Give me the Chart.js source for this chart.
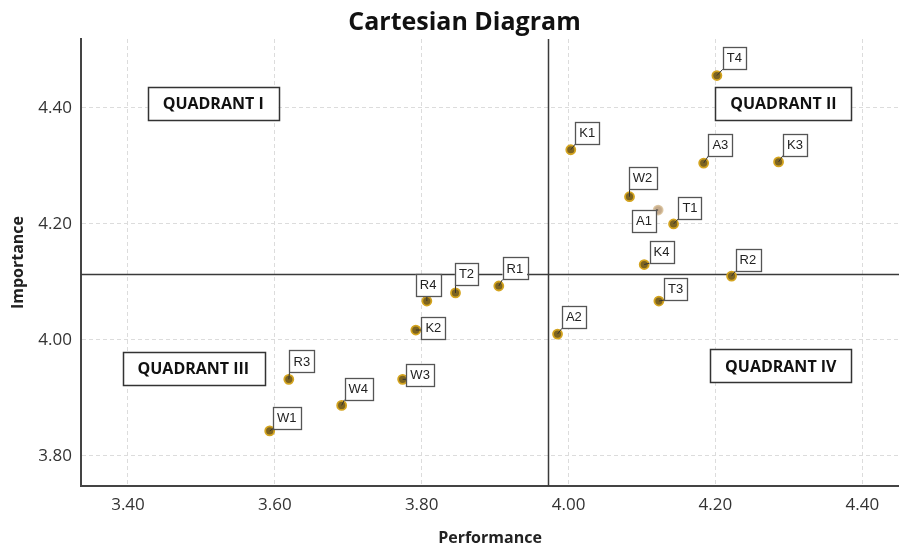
<!DOCTYPE html>
<html>
<head>
<meta charset="utf-8">
<script src="https://cdn.jsdelivr.net/npm/chart.js@4"></script>
<style>
  html, body { margin: 0; padding: 0; background: #fff; }
  #wrap { width: 899px; height: 550px; }
</style>
</head>
<body>
<div id="wrap"><canvas id="c" width="899" height="550"></canvas></div>
<script>
// ---- data ----
const pointLabels = ['T4','K1','A3','K3','W2','A1','T1','K4','R2','T3','A2','R1','T2','R4','K2','R3','W4','W3','W1'];
const performance = [4.202,4.003,4.184,4.286,4.083,4.122,4.143,4.103,4.222,4.123,3.985,3.905,3.846,3.807,3.792,3.619,3.691,3.774,3.593];
const importance  = [4.456,4.328,4.305,4.307,4.247,4.224,4.200,4.130,4.110,4.067,4.010,4.093,4.081,4.067,4.017,3.932,3.887,3.932,3.843];
const xTicks = [3.40, 3.60, 3.80, 4.00, 4.20, 4.40];
const yTicks = [3.80, 4.00, 4.20, 4.40];
const meanPerformance = 3.9715;
const meanImportance = 4.114;
const quadrantNames = ['QUADRANT I', 'QUADRANT II', 'QUADRANT III', 'QUADRANT IV'];

// ---- label placement (box centre offset from its point, px) ----
const labelOffsets = {
  T4:[17.5,-17.3], K1:[16.5,-16.7], A3:[16.7,-18.2], K3:[16.4,-17.4], W2:[13,-19],
  A1:[-14.1,10.8], T1:[16.4,-16.2], K4:[17.3,-12.3], R2:[16.3,-16.3], T3:[16.8,-12],
  A2:[16.3,-16.8], R1:[16,-17.5], T2:[11,-19], R4:[1.3,-15.8], K2:[17.5,-2.3],
  R3:[13,-17.9], W4:[16.6,-16.8], W3:[17.5,-4.8], W1:[17,-13.3]
};
// quadrant label anchors in data space
const quadrantAnchors = [[3.516,4.408],[4.2925,4.407],[3.489,3.951],[4.289,3.955]];

const quadPlugin = {
  id: 'quad',
  afterLayout(chart) {
    // the reference title sits slightly right of the canvas centre
    if (chart.titleBlock) { chart.titleBlock.left += 30; }
  },
  beforeDatasetsDraw(chart) {
    const {ctx, chartArea: a, scales: {x, y}} = chart;
    ctx.save();
    ctx.strokeStyle = '#3a3a3a';
    ctx.lineWidth = 1.5;
    const vx = Math.round(x.getPixelForValue(meanPerformance)) + 0.5;
    const hy = Math.round(y.getPixelForValue(meanImportance)) + 0.5;
    ctx.beginPath(); ctx.moveTo(vx, a.top); ctx.lineTo(vx, a.bottom); ctx.stroke();
    ctx.beginPath(); ctx.moveTo(a.left, hy); ctx.lineTo(a.right, hy); ctx.stroke();
    // quadrant boxes
    ctx.font = 'bold 16px "Open Sans"';
    ctx.textAlign = 'center';
    ctx.textBaseline = 'middle';
    quadrantNames.forEach((name, i) => {
      const cx = x.getPixelForValue(quadrantAnchors[i][0]);
      const cy = y.getPixelForValue(quadrantAnchors[i][1]);
      const w = ctx.measureText(name).width + 30;
      const h = 33;
      ctx.fillStyle = '#fff';
      ctx.fillRect(cx - w/2, cy - h/2, w, h);
      ctx.strokeStyle = '#333';
      ctx.lineWidth = 1.5;
      ctx.strokeRect(Math.round(cx - w/2) + 0.5, Math.round(cy - h/2) + 0.5, Math.round(w), h);
      ctx.fillStyle = '#111';
      ctx.fillText(name, cx, cy + 1);
    });
    ctx.restore();
  },
  afterDatasetsDraw(chart) {
    const {ctx} = chart;
    const meta = chart.getDatasetMeta(0);
    ctx.save();
    ctx.font = '13px "Liberation Sans"';
    ctx.textAlign = 'center';
    ctx.textBaseline = 'middle';
    meta.data.forEach((pt, i) => {
      const name = pointLabels[i];
      const off = labelOffsets[name] || [16, -16];
      const cx = pt.x + off[0], cy = pt.y + off[1];
      const w = ctx.measureText(name).width + 8;
      const h = 22;
      const l = cx - w/2, t = cy - h/2;
      const nx = Math.max(l, Math.min(pt.x, l + w));
      const ny = Math.max(t, Math.min(pt.y, t + h));
      ctx.strokeStyle = '#333';
      ctx.lineWidth = 1;
      ctx.beginPath(); ctx.moveTo(pt.x, pt.y); ctx.lineTo(nx, ny); ctx.stroke();
      ctx.fillStyle = '#fff';
      ctx.fillRect(l, t, w, h);
      ctx.strokeStyle = '#555';
      ctx.lineWidth = 1.3;
      ctx.strokeRect(Math.round(l) + 0.5, Math.round(t) + 0.5, Math.round(w), h);
      ctx.fillStyle = '#222';
      ctx.fillText(name, cx, cy + 0.5);
    });
    ctx.restore();
  }
};

const isFaded = i => pointLabels[i] === 'A1';

new Chart(document.getElementById('c'), {
  type: 'scatter',
  data: {
    datasets: [{
      data: performance.map((v, i) => ({x: v, y: importance[i]})),
      pointRadius: 4.5,
      pointBackgroundColor: c => isFaded(c.dataIndex) ? 'rgba(175,140,100,0.75)' : '#7d6420',
      pointBorderColor: c => isFaded(c.dataIndex) ? 'rgba(215,190,150,0.8)' : '#d4a41f',
      pointBorderWidth: 1.8
    }]
  },
  options: {
    responsive: false,
    animation: false,
    layout: { padding: 0, autoPadding: false },
    plugins: {
      legend: { display: false },
      tooltip: { enabled: false },
      title: {
        display: true,
        text: 'Cartesian Diagram',
        color: '#111',
        font: { family: 'Open Sans', size: 25, weight: 'bold', lineHeight: 1.2 },
        padding: { top: 8, bottom: 1 }
      }
    },
    scales: {
      x: {
        type: 'linear',
        min: 3.336, max: 4.450,
        afterBuildTicks: s => { s.ticks = xTicks.map(v => ({value: v})); },
        afterFit: s => { s.height = 64; s.paddingRight = 0; s.paddingLeft = 0; },
        ticks: { callback: v => Number(v).toFixed(2), color: '#333', font: { family: 'Open Sans', size: 17 }, padding: 9 },
        grid: { color: '#dcdcdc', drawTicks: false, tickLength: 0 },
        border: { display: true, color: '#444', width: 2, dash: [4, 3] },
        title: { display: true, text: 'Performance', color: '#222', font: { family: 'Open Sans', size: 16, weight: 'bold' }, padding: { top: 0, bottom: 2 } }
      },
      y: {
        type: 'linear',
        min: 3.748, max: 4.519,
        afterBuildTicks: s => { s.ticks = yTicks.map(v => ({value: v})); },
        afterFit: s => { s.width = 81; s.paddingTop = 0; s.paddingBottom = 0; },
        ticks: { callback: v => Number(v).toFixed(2), color: '#333', font: { family: 'Open Sans', size: 17 }, padding: 9 },
        grid: { color: '#dcdcdc', drawTicks: false, tickLength: 0 },
        border: { display: true, color: '#444', width: 2, dash: [4, 3] },
        title: { display: true, text: 'Importance', color: '#222', font: { family: 'Open Sans', size: 16, weight: 'bold' }, padding: { top: 9, bottom: 0 } }
      }
    }
  },
  plugins: [quadPlugin]
});
</script>
</body>
</html>
